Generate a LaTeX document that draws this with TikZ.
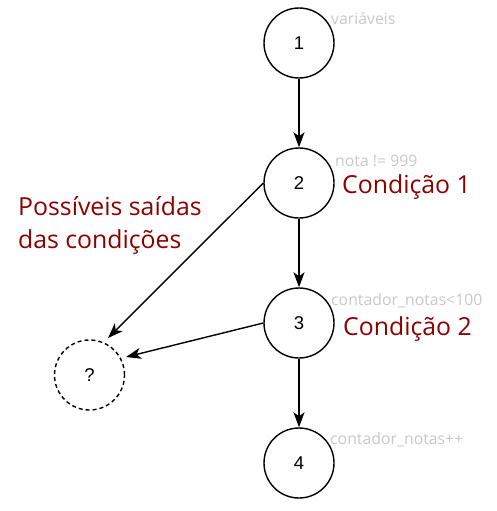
\documentclass[tikz,border=0pt]{standalone}
\usepackage{fontspec}
\setmainfont{Open Sans}
\newfontfamily\numfont{Liberation Sans}
\usetikzlibrary{arrows.meta}
\definecolor{lbl}{RGB}{200,200,200}
\definecolor{cond}{RGB}{140,0,0}
\tikzset{
  state/.style={draw=black, line width=1.4pt, circle, minimum size=70pt, inner sep=0pt, font=\numfont\fontsize{18.5}{22}\selectfont},
  qstate/.style={state, dash pattern=on 4pt off 3pt},
  edge/.style={line width=1.4pt, -{Stealth[length=15pt,width=11pt,inset=4pt]}},
  gl/.style={anchor=base west, inner sep=0pt, text=lbl, font=\fontsize{15.8}{18}\selectfont},
  cl/.style={anchor=base west, inner sep=0pt, text=cond, font=\fontsize{24.8}{33}\selectfont},
}
\begin{document}
\begin{tikzpicture}[x=1pt,y=-1pt]
\useasboundingbox (0,0) rectangle (496,511);
\node[state] (n1) at (299,43) {1};
\node[state] (n2) at (299,183) {2};
\node[state] (n3) at (299,323) {3};
\node[state] (n4) at (299,463) {4};
\node[qstate] (q) at (89.5,375) {?};
\draw[edge] (n1) -- (n2);
\draw[edge] (n2) -- (n3);
\draw[edge] (n3) -- (n4);
\coordinate (t1) at (108,338);
\coordinate (t2) at (126,357);
\draw[edge] (n2.west) -- (t1);
\draw[edge] (n3.west) -- (t2);
\node[gl] (l1) at (331,25) {variáveis};
\node[gl] (l2) at (335,166) {nota != 999};
\node[gl] (l3) at (331,305) {contador\_notas<100};
\node[gl] (l4) at (330,444) {contador\_notas++};
\node[cl] (c1) at (342,193) {Condição 1};
\node[cl] (c2) at (343,335) {Condição 2};
\node[cl] (p1) at (18,215) {Possíveis saídas};
\node[cl] (p2) at (18,248) {das condições};
\end{tikzpicture}
\end{document}
